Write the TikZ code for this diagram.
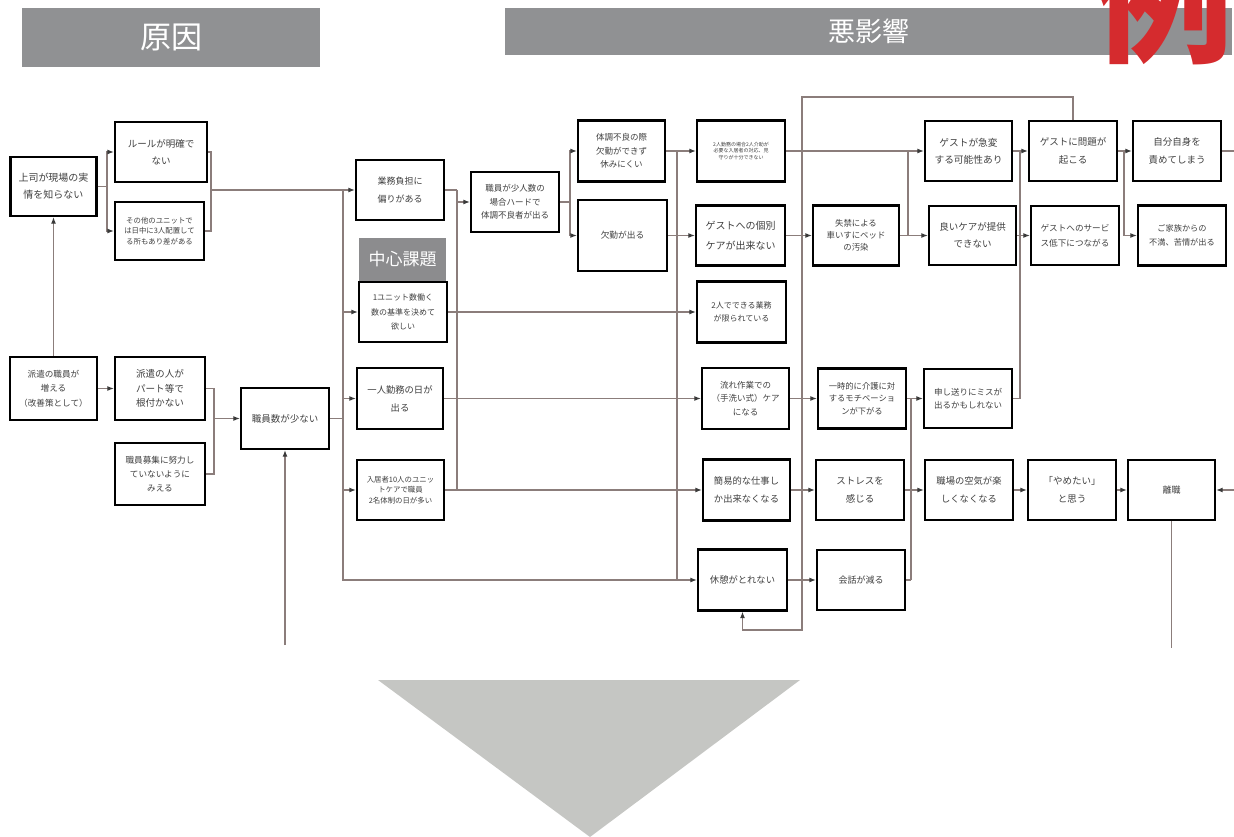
\documentclass[tikz,border=0pt]{standalone}
\usepackage{fontspec}
\setmainfont{Noto Sans CJK JP}
\usetikzlibrary{arrows.meta}
\definecolor{lineC}{HTML}{8B7D7B}
\definecolor{tipC}{HTML}{3A3A3A}
\definecolor{txtC}{HTML}{404040}
\definecolor{hdrC}{HTML}{909193}
\definecolor{midC}{HTML}{8C8C8E}
\definecolor{triC}{HTML}{C5C6C3}
\definecolor{redC}{HTML}{D52B2E}
\newcommand{\fz}[2]{\fontsize{#1pt}{#2pt}\selectfont}
\begin{document}
\begin{tikzpicture}[x=1pt,y=-1pt,
  box/.style={draw=black, line width=2.3pt, fill=white, align=center, inner sep=0pt, text=txtC},
  conn/.style={draw=lineC, line width=1.2pt},
  arr/.style={conn, -{Latex[length=6.5pt,width=5pt,color=tipC]}},
  hdr/.style={fill=hdrC, text=white, inner sep=0pt}
]
\useasboundingbox (0,0) rectangle (1234,837);
\clip (0,0) rectangle (1234,837);
\fill[white] (0,0) rectangle (1234,837);

% headers
\node[hdr, minimum width=298pt, minimum height=59pt, font=\fz{31}{31}] (H1) at (171,37.5) {原因};
\node[hdr, minimum width=727pt, minimum height=47pt, font=\fz{27}{27}] (H2) at (868.5,31.5) {悪影響};
\node[text=redC, font=\fz{140}{140}\bfseries, anchor=base, inner sep=0pt] (rei) at (1163,52) {例};

% triangle
\fill[triC] (378,680) -- (800,680) -- (590,837) -- cycle;

% boxes
\node[box, minimum width=86pt, minimum height=59pt, font=\fz{10}{17}] (A) at (53.5,186.5) {上司が現場の実\\情を知らない};
\node[box, minimum width=92pt, minimum height=60pt, font=\fz{9.5}{17}] (B) at (161,152) {ルールが明確で\\ない};
\node[box, minimum width=89pt, minimum height=58pt, font=\fz{7.4}{10.5}] (C) at (159.5,231) {その他のユニットで\\は日中に3人配置して\\る所もあり差がある};
\node[box, minimum width=87pt, minimum height=63pt, font=\fz{8.6}{14.5}] (D) at (53.5,388.5) {派遣の職員が\\増える\\（改善策として）};
\node[box, minimum width=90pt, minimum height=63pt, font=\fz{9.6}{14.5}] (E) at (160,388.5) {派遣の人が\\パート等で\\根付かない};
\node[box, minimum width=90pt, minimum height=62pt, font=\fz{8.6}{14}] (F) at (160,474) {職員募集に努力し\\ていないように\\みえる};
\node[box, minimum width=88pt, minimum height=61pt, font=\fz{9.5}{17}] (G) at (285,418.5) {職員数が少ない};
\node[box, minimum width=88pt, minimum height=60pt, font=\fz{9}{17.5}] (H) at (400,190) {業務負担に\\偏りがある};
\node[fill=midC, text=white, minimum width=87pt, minimum height=43pt, inner sep=0pt, font=\fz{17}{17}] (CK) at (402.5,259.5) {中心課題};
\node[box, minimum width=88pt, minimum height=60pt, font=\fz{8}{14.5}] (I) at (403,312) {1ユニット数働く\\数の基準を決めて\\欲しい};
\node[box, minimum width=86pt, minimum height=61pt, font=\fz{9.3}{18}] (J) at (400,398.5) {一人勤務の日が\\出る};
\node[box, minimum width=87pt, minimum height=60pt, font=\fz{7.4}{10.5}] (K) at (400.5,490) {入居者10人のユニッ\\トケアで職員\\2名体制の日が多い};
\node[box, minimum width=88pt, minimum height=60pt, font=\fz{8.5}{13.5}] (L) at (515,202) {職員が少人数の\\場合ハードで\\体調不良者が出る};
\node[box, minimum width=87pt, minimum height=61pt, font=\fz{8.5}{13.5}] (M) at (621.5,151) {体調不良の際\\欠勤ができず\\休みにくい};
\node[box, minimum width=89pt, minimum height=71pt, font=\fz{8.7}{14}] (N) at (622.5,235.5) {欠勤が出る};
\node[box, minimum width=88pt, minimum height=61pt, font=\fz{5}{6.5}] (O) at (741,151) {2人勤務の場合2人介助が\\必要な入居者の対応、見\\守りが十分できない};
\node[box, minimum width=89pt, minimum height=60pt, font=\fz{10}{20}] (P) at (740.5,235.5) {ゲストへの個別\\ケアが出来ない};
\node[box, minimum width=89pt, minimum height=61pt, font=\fz{8}{13.5}] (Q) at (741.5,312) {2人でできる業務\\が限られている};
\node[box, minimum width=87pt, minimum height=61pt, font=\fz{8.5}{13.5}] (R) at (745.5,398.5) {流れ作業での\\（手洗い式）ケア\\になる};
\node[box, minimum width=87pt, minimum height=61pt, font=\fz{9.3}{17.5}] (S) at (746.5,490) {簡易的な仕事し\\か出来なくなる};
\node[box, minimum width=89pt, minimum height=61pt, font=\fz{9.3}{17}] (T) at (742.5,580) {休憩がとれない};
\node[box, minimum width=86pt, minimum height=60pt, font=\fz{8.4}{12}] (U) at (856,235.5) {失禁による\\車いすにベッド\\の汚染};
\node[box, minimum width=88pt, minimum height=60pt, font=\fz{8.3}{12.5}] (V) at (862,398.5) {一時的に介護に対\\するモチベーショ\\ンが下がる};
\node[box, minimum width=88pt, minimum height=60pt, font=\fz{9.5}{18}] (W) at (860,490) {ストレスを\\感じる};
\node[box, minimum width=88pt, minimum height=60pt, font=\fz{9}{17}] (X) at (861,580) {会話が減る};
\node[box, minimum width=87pt, minimum height=60pt, font=\fz{9.7}{17}] (Y) at (968.5,151) {ゲストが急変\\する可能性あり};
\node[box, minimum width=87pt, minimum height=59pt, font=\fz{9.5}{17}] (Z) at (972.5,235.5) {良いケアが提供\\できない};
\node[box, minimum width=88pt, minimum height=59pt, font=\fz{8.5}{13.5}] (AA) at (968,398.5) {申し送りにミスが\\出るかもしれない};
\node[box, minimum width=88pt, minimum height=60pt, font=\fz{9.3}{17.5}] (AB) at (969,490) {職場の空気が楽\\しくなくなる};
\node[box, minimum width=88pt, minimum height=60pt, font=\fz{9.5}{17.5}] (AC) at (1073,151) {ゲストに問題が\\起こる};
\node[box, minimum width=88pt, minimum height=59pt, font=\fz{8.6}{15}] (AD) at (1075,235.5) {ゲストへのサービ\\ス低下につながる};
\node[box, minimum width=88pt, minimum height=60pt, font=\fz{9.5}{17.5}] (AE) at (1072,490) {「やめたい」\\と思う};
\node[box, minimum width=88pt, minimum height=60pt, font=\fz{9.5}{17.5}] (AF) at (1177,151) {自分自身を\\責めてしまう};
\node[box, minimum width=88pt, minimum height=60pt, font=\fz{8.2}{14}] (AG) at (1182,235.5) {ご家族からの\\不満、苦情が出る};
\node[box, minimum width=87pt, minimum height=60pt, font=\fz{9}{17}] (AH) at (1171.5,490) {離職};

% junction coordinates
\coordinate (jA) at (107,186.5);
\coordinate (jBC) at (211,190);
\coordinate (jEF) at (214,418.5);
\coordinate (gIn) at (285,645);
\coordinate (gB) at (343,190);
\coordinate (jH) at (457,190);
\coordinate (jL) at (570,202);
\coordinate (jM) at (677,151);
\coordinate (jU) at (908,235.5);
\coordinate (jV) at (911,398.5);
\coordinate (jY) at (1020,151);
\coordinate (jAC) at (1124,151);
\coordinate (offR) at (1234,151);
\coordinate (inR) at (1234,490);
\coordinate (ahB) at (1171.5,648);
\coordinate (lpTL) at (802,97);
\coordinate (lpBL) at (802,630);

% connectors
\draw[conn] (A.east) -- (jA);
\draw[arr] (jA) |- (B.west);
\draw[arr] (jA) |- (C.west);
\draw[conn] (B.east) -| (jBC);
\draw[conn] (C.east) -| (jBC);
\draw[arr] (jBC) -- (H.west);
\draw[arr] (D.north) -- (A.south);
\draw[arr] (D.east) -- (E.west);
\draw[conn] (E.east) -| (jEF);
\draw[conn] (F.east) -| (jEF);
\draw[arr] (jEF) -- (G.west);
\draw[arr] (gIn) -- (G.south);
\draw[conn] (G.east) -- (G.east -| gB);
\draw[arr] (gB) |- (T.west);
\draw[arr] (gB |- I.west) -- (I.west);
\draw[arr] (gB |- J.west) -- (J.west);
\draw[arr] (gB |- K.west) -- (K.west);
\draw[conn] (H.east) -- (jH);
\draw[conn] (jH) -- (jH |- K.east);
\draw[arr] (jH |- L.west) -- (L.west);
\draw[arr] (I.east) -- (Q.west);
\draw[arr] (J.east) -- (R.west);
\draw[arr] (K.east) -- (S.west);
\draw[conn] (L.east) -- (jL);
\draw[arr] (jL) |- (M.west);
\draw[arr] (jL) |- (N.west);
\draw[arr] (M.east) -- (O.west);
\draw[conn] (jM) -- (jM |- T.west);
\draw[arr] (N.east) -- (P.west);
\draw[arr] (O.east) -- (Y.west);
\draw[arr] (P.east) -- (U.west);
\draw[arr] (U.east) -- (Z.west);
\draw[conn] (jU) -- (jU |- Y.west);
\draw[arr] (R.east) -- (V.west);
\draw[arr] (V.east) -- (AA.west);
\draw[conn] (jV) -- (jV |- X.east);
\draw[conn] (X.east) -- (X.east -| jV);
\draw[arr] (W.east) -- (AB.west);
\draw[arr] (S.east) -- (W.west);
\draw[arr] (T.east) -- (X.west);
\draw[arr] (Y.east) -- (AC.west);
\draw[arr] (Z.east) -- (AD.west);
\draw[conn] (AA.east) -| (jY);
\draw[arr] (AC.east) -- (AF.west);
\draw[arr] (jAC) |- (AG.west);
\draw[conn] (AF.east) -- (offR);
\draw[arr] (AB.east) -- (AE.west);
\draw[arr] (AE.east) -- (AH.west);
\draw[arr] (inR) -- (AH.east);
\draw[conn] (AH.south) -- (ahB);
\draw[arr] (AC.north) |- (lpTL) -- (lpBL) -| (T.south);
\end{tikzpicture}
\end{document}
